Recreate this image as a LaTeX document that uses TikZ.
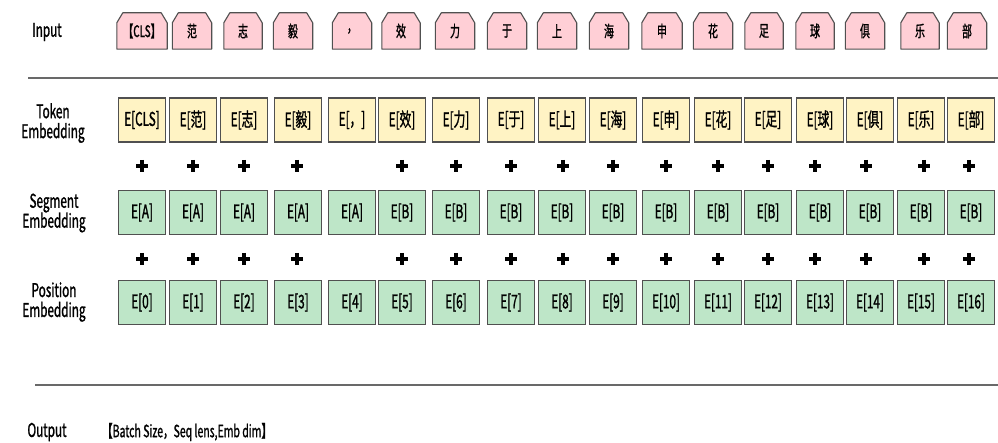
\documentclass[tikz,border=0pt]{standalone}
\usepackage{fontspec}
\setmainfont[FakeStretch=0.62,FakeBold=1.2]{Noto Sans CJK SC}
\usetikzlibrary{backgrounds}
\definecolor{inpink}{RGB}{255,207,214}
\definecolor{tokyel}{RGB}{255,243,196}
\definecolor{embgrn}{RGB}{190,230,200}
\definecolor{edgegray}{RGB}{80,80,80}
\definecolor{rulegray}{RGB}{105,105,105}
\begin{document}
\begin{tikzpicture}[x=1bp,y=-1bp,
  lbl/.style={align=center, inner sep=0, font=\fontsize{19}{20}\selectfont},
  inbox/.style={minimum height=36bp, inner sep=0, font=\fontsize{16}{17}\selectfont},
  inshape/.style={draw=edgegray, line width=1.1bp, fill=inpink, line join=round},
  ebox/.style={draw=edgegray, line width=1.1bp, minimum width=47bp, minimum height=44bp, inner sep=0, font=\fontsize{19}{20}\selectfont},
  tokbox/.style={ebox, fill=tokyel},
  segbox/.style={ebox, fill=embgrn},
  posbox/.style={ebox, fill=embgrn},
  plussign/.style={minimum size=12bp, inner sep=0, path picture={
      \draw[line width=3.6bp, black] (path picture bounding box.north) -- (path picture bounding box.south);
      \draw[line width=3.6bp, black] (path picture bounding box.west) -- (path picture bounding box.east);}},
  rule/.style={draw=rulegray, line width=1.6bp}
]
\useasboundingbox (0,0) rectangle (998,443);

% row labels
\node[lbl] (linput) at (47,32) {Input};
\node[lbl] (ltoken) at (53,123) {Token\\Embedding};
\node[lbl] (lseg) at (54,213) {Segment\\Embedding};
\node[lbl] (lpos) at (54,302) {Position\\Embedding};
\node[lbl] (lout) at (47,432) {Output};
\node[anchor=west, inner sep=0, font=\fontsize{17}{18}\selectfont] (outdims) at (102,432) {【Batch Size，Seq lens,Emb dim】};

% rules
\coordinate (r1a) at (28,78);
\coordinate (r1b) at (998,78);
\coordinate (r2a) at (35,385);
\coordinate (r2b) at (998,385);
\draw[rule] (r1a) -- (r1b);
\draw[rule] (r2a) -- (r2b);

% input row
\foreach \k/\x/\t/\w in {0/142/【CLS】/50, 1/192/范/39, 2/243/志/38, 3/293/毅/39, 4/352/，/39, 5/401/效/38, 6/455/力/39, 7/507/于/39, 8/557/上/39, 9/609/海/39, 10/662/申/40, 11/713/花/39, 12/764/足/38, 13/815/球/38, 14/865/俱/39, 15/920/乐/38, 16/967/部/39}{
  \node[inbox, minimum width=\w bp] (in\k) at (\x,31) {\t};
  \begin{scope}[on background layer]
    \draw[inshape] (in\k.south west) -- ([yshift=-10bp]in\k.north west) -- ([xshift=6bp]in\k.north west)
      -- ([xshift=-6bp]in\k.north east) -- ([yshift=-10bp]in\k.north east) -- (in\k.south east) -- cycle;
  \end{scope}
}

% embedding rows
\foreach \k/\x/\t/\s in {0/142/CLS/A, 1/193/范/A, 2/244/志/A, 3/298/毅/A, 4/352/，/A, 5/402/效/B, 6/456/力/B, 7/511/于/B, 8/562/上/B, 9/613/海/B, 10/666/申/B, 11/718/花/B, 12/768/足/B, 13/820/球/B, 14/870/俱/B, 15/921/乐/B, 16/971/部/B}{
  \node[tokbox] (tok\k) at (\x,120) {E[\t]};
  \node[segbox] (seg\k) at (\x,212.5) {E[\s]};
  \node[posbox] (pos\k) at (\x,302.5) {E[\k]};
}

% plus signs
\foreach \k/\x in {0/142, 1/193, 2/244, 3/297, 5/402, 6/456, 7/511, 8/563, 9/613, 10/666, 11/718, 12/768, 13/815, 14/866, 15/924, 16/969}{
  \node[plussign] (pa\k) at (\x,166) {};
  \node[plussign] (pb\k) at (\x,259) {};
}
\end{tikzpicture}
\end{document}
